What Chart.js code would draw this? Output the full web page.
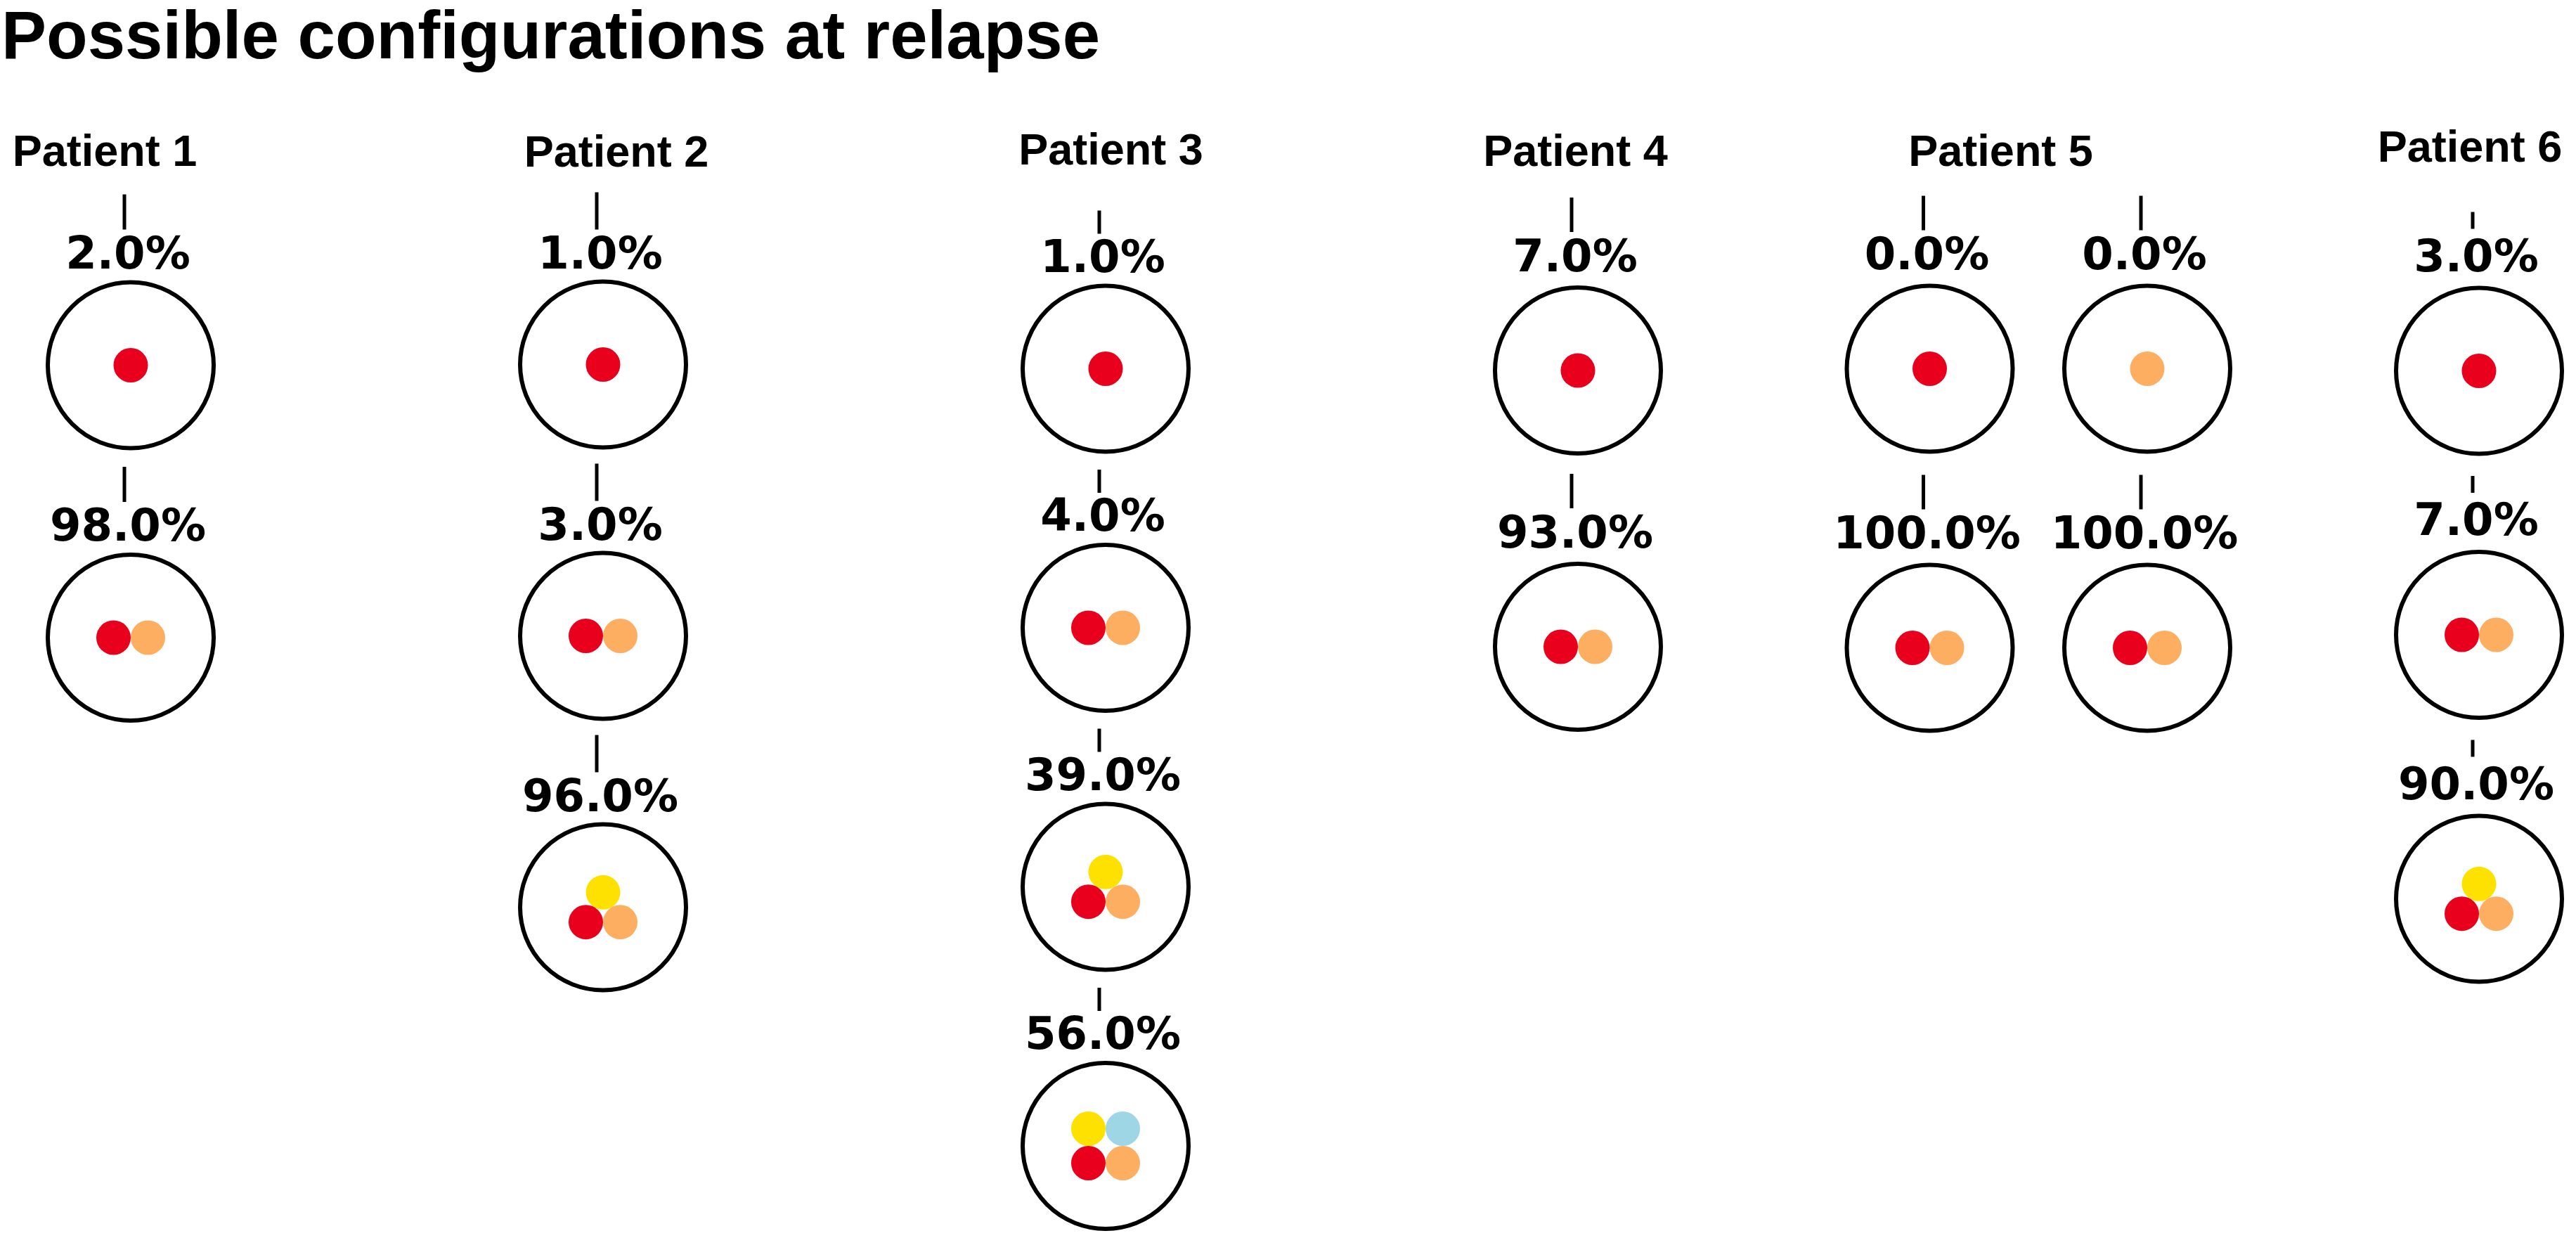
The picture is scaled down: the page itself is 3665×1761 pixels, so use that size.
<!DOCTYPE html>
<html>
<head>
<meta charset="utf-8">
<script src="https://cdn.jsdelivr.net/npm/chart.js@4.4.1/dist/chart.umd.min.js"></script>
<style>
  html, body { margin: 0; padding: 0; background: #fff; }
  #wrap { width: 3665px; height: 1761px; position: relative; }
</style>
</head>
<body>
<div id="wrap"><canvas id="relapseChart"></canvas></div>
<script>
// Data: patients, and per chain of configurations the percentage and the clones present
const patients = ["Patient 1", "Patient 2", "Patient 3", "Patient 4", "Patient 5", "Patient 6"];
const clones = ["A", "B", "C", "D"];
const chainPatient = [0, 1, 2, 3, 4, 4, 5];
const chainPercents = [
  [2.0, 98.0],
  [1.0, 3.0, 96.0],
  [1.0, 4.0, 39.0, 56.0],
  [7.0, 93.0],
  [0.0, 100.0],
  [0.0, 100.0],
  [3.0, 7.0, 90.0]
];
const chainConfigs = [
  ["A", "AB"],
  ["A", "AB", "ABC"],
  ["A", "AB", "ABC", "ABCD"],
  ["A", "AB"],
  ["A", "AB"],
  ["B", "AB"],
  ["A", "AB", "ABC"]
];

// Layout (pixel-like units of the hidden axes) and styles
const cloneColors = { A: "#E8001D", B: "#FDAE61", C: "#FFE100", D: "#9FD6E6" };
const chainX = [186, 858, 1573, 2245, 2745.5, 3055, 3527];
const chainTop = [519.5, 518.5, 524.5, 527, 524.5, 524.5, 527.5];
const chainStride = [387.5, 386, 368.5, 393, 397, 397, 375.5];
const tickLen = [50, 53, 33, 49, 49, 49, 24];
const tickEnd = [193, 192, 192, 197, 197, 197, 202];
const labelRise = [138, 137, 138, 141.5, 141.5, 141.5, 142];
const titleX = [149, 877, 1580.5, 2241.5, 2846.6, 3514];
const titleBase = [236, 237, 234, 236, 236, 230];
const dotStep = 24.5;

function slot(n, clone) {
  // where a clone sits inside its circle, depending on how many clones there are
  if (n === 1) return [0, 0];
  if (n === 2) return clone === "A" ? [-dotStep, 0] : [dotStep, 0];
  if (n === 3) {
    const h = 21.2;
    return { A: [-dotStep, h], B: [dotStep, h], C: [0, -h] }[clone];
  }
  return { A: [-dotStep, dotStep], B: [dotStep, dotStep], C: [-dotStep, -dotStep], D: [dotStep, -dotStep] }[clone];
}

function rowY(c, r) {
  return chainTop[c] + r * chainStride[c];
}

const outlinePoints = [];
const clonePoints = { A: [], B: [], C: [], D: [] };
chainConfigs.forEach((configs, c) => {
  configs.forEach((cfg, r) => {
    const x = chainX[c];
    const y = rowY(c, r);
    outlinePoints.push({ x: x, y: y });
    const members = cfg.split("");
    members.forEach((cl) => {
      const off = slot(members.length, cl);
      clonePoints[cl].push({ x: x + off[0], y: y + off[1] });
    });
  });
});

const datasets = [
  {
    label: "Configuration",
    data: outlinePoints,
    pointRadius: 118,
    pointBorderWidth: 6,
    pointBorderColor: "#000",
    pointBackgroundColor: "#fff",
    order: 2,
    clip: false
  }
];
clones.forEach((cl) => {
  datasets.push({
    label: "Clone " + cl,
    data: clonePoints[cl],
    pointRadius: dotStep,
    pointBorderWidth: 0,
    pointBackgroundColor: cloneColors[cl],
    order: 1,
    clip: false
  });
});

// texts and connector ticks, placed through the chart's own scales
const labelsPlugin = {
  id: "relapseLabels",
  afterDatasetsDraw(chart) {
    const ctx = chart.ctx;
    const xs = chart.scales.x;
    const ys = chart.scales.y;
    ctx.save();
    ctx.fillStyle = "#000";
    ctx.textBaseline = "alphabetic";

    ctx.textAlign = "left";
    ctx.font = "bold 96px 'Liberation Sans', Arial, sans-serif";
    ctx.fillText("Possible configurations at relapse", xs.getPixelForValue(2), ys.getPixelForValue(83));

    ctx.textAlign = "center";
    ctx.font = "bold 63px 'Liberation Sans', Arial, sans-serif";
    patients.forEach((p, i) => {
      ctx.fillText(p, xs.getPixelForValue(titleX[i]), ys.getPixelForValue(titleBase[i]));
    });

    ctx.font = "bold 64px 'DejaVu Sans', sans-serif";
    ctx.strokeStyle = "#000";
    ctx.lineWidth = 5;
    chainPercents.forEach((vals, c) => {
      vals.forEach((v, r) => {
        const cy = rowY(c, r);
        const tx = xs.getPixelForValue(chainX[c] - 9);
        ctx.beginPath();
        ctx.moveTo(tx, ys.getPixelForValue(cy - tickEnd[c] - tickLen[c]));
        ctx.lineTo(tx, ys.getPixelForValue(cy - tickEnd[c]));
        ctx.stroke();
        ctx.fillText(v.toFixed(1) + "%", xs.getPixelForValue(chainX[c] - 4), ys.getPixelForValue(cy - labelRise[c]));
      });
    });
    ctx.restore();
  }
};

document.addEventListener("DOMContentLoaded", () => {
  const ctx = document.getElementById("relapseChart").getContext("2d");
  new Chart(ctx, {
    type: "scatter",
    data: { datasets: datasets },
    options: {
      responsive: true,
      maintainAspectRatio: false,
      devicePixelRatio: 1,
      animation: false,
      events: [],
      layout: { padding: 0, autoPadding: false },
      scales: {
        x: { type: "linear", min: 0, max: 3665, display: false },
        y: { type: "linear", min: 0, max: 1761, reverse: true, display: false }
      },
      plugins: {
        legend: { display: false },
        title: { display: false },
        tooltip: { enabled: false }
      }
    },
    plugins: [labelsPlugin]
  });
});
</script>
</body>
</html>
